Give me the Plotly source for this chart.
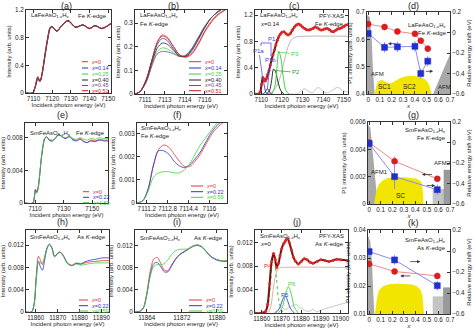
import plotly.graph_objects as go

FONT = "Liberation Sans, Arial, sans-serif"
W, H = 474, 330

# ---------------- data ----------------
LEG6 = ["x=0", "x=0.14", "x=0.25", "x=0.40", "x=0.45", "x=0.51"]
LEG3 = ["x=0", "x=0.22", "x=0.59"]
COL6 = ["#e8322e", "#2b35c8", "#3ad43a", "#222222", "#7a4a8a", "#c81e1e"]
COL3 = ["#e8322e", "#2b35c8", "#3ad43a"]

# (a) La Fe K-edge
E_A = [7106, 7109.5, 7110.8, 7112.3, 7113.5, 7114.5, 7116, 7117.5, 7119, 7120, 7122.5, 7125,
       7128.5, 7132.5, 7136.5, 7140, 7143, 7146.5, 7148.5, 7151.5]
A_SER = [
    [0, 0, 0.08, 0.24, 0.17, 0.25, 0.50, 0.75, 0.94, 0.96, 0.89, 0.97, 1.05, 0.95, 0.985, 0.93, 0.975, 0.93, 0.95, 1.01],
    [0, 0, 0.08, 0.23, 0.17, 0.26, 0.51, 0.76, 0.94, 0.955, 0.895, 0.97, 1.04, 0.955, 0.98, 0.935, 0.97, 0.935, 0.955, 1.0],
    [0, 0, 0.08, 0.21, 0.17, 0.26, 0.52, 0.77, 0.95, 0.96, 0.90, 0.975, 1.04, 0.95, 0.98, 0.93, 0.97, 0.93, 0.95, 1.0],
    [0, 0, 0.07, 0.20, 0.17, 0.27, 0.53, 0.78, 0.95, 0.96, 0.90, 0.97, 1.045, 0.955, 0.985, 0.935, 0.975, 0.935, 0.955, 1.005],
    [0, 0, 0.07, 0.19, 0.17, 0.27, 0.53, 0.78, 0.95, 0.955, 0.895, 0.97, 1.04, 0.95, 0.98, 0.93, 0.97, 0.93, 0.95, 1.0],
    [0, 0, 0.08, 0.22, 0.17, 0.26, 0.51, 0.76, 0.94, 0.96, 0.89, 0.97, 1.05, 0.95, 0.985, 0.93, 0.975, 0.93, 0.95, 1.01],
]

# (b) La pre-edge
E_B = [7110.4, 7110.8, 7111.3, 7111.8, 7112.2, 7112.6, 7113.0, 7113.5, 7114.0, 7114.5, 7115.0,
       7115.5, 7116.0, 7116.5, 7117.0, 7117.8]
B_SER = [
    [0.0, 0.01, 0.06, 0.15, 0.22, 0.25, 0.24, 0.20, 0.165, 0.155, 0.17, 0.21, 0.26, 0.30, 0.33, 0.36],
    [0.0, 0.01, 0.06, 0.15, 0.21, 0.235, 0.225, 0.19, 0.16, 0.16, 0.185, 0.23, 0.28, 0.32, 0.345, 0.37],
    [0.0, 0.01, 0.05, 0.13, 0.18, 0.195, 0.19, 0.175, 0.16, 0.165, 0.195, 0.24, 0.285, 0.32, 0.345, 0.37],
    [0.0, 0.01, 0.055, 0.14, 0.195, 0.215, 0.21, 0.185, 0.16, 0.16, 0.19, 0.235, 0.28, 0.32, 0.345, 0.37],
    [0.0, 0.01, 0.05, 0.125, 0.17, 0.18, 0.178, 0.17, 0.158, 0.165, 0.195, 0.24, 0.285, 0.32, 0.345, 0.37],
    [0.0, 0.01, 0.06, 0.15, 0.22, 0.245, 0.235, 0.20, 0.165, 0.158, 0.175, 0.215, 0.265, 0.305, 0.335, 0.36],
]

# (c) PFY-XAS fit, La x=0.14
E_C = [7107, 7108.5, 7109.5, 7110.2, 7110.8, 7111.4, 7112, 7112.6, 7113.2, 7113.8, 7114.4, 7115,
       7115.7, 7116.4, 7117.1, 7117.8, 7118.5, 7119.2, 7120, 7121, 7122, 7123, 7124, 7125, 7126,
       7127, 7128, 7129, 7130, 7131, 7132, 7133, 7134, 7135, 7136, 7137, 7138, 7139, 7140, 7141,
       7142, 7143, 7144, 7145, 7146, 7147, 7148, 7149, 7150, 7151, 7152]
C_DATA = [0, 0, 0.03, 0.15, 0.25, 0.22, 0.2, 0.24, 0.3, 0.36, 0.44, 0.52, 0.6, 0.67, 0.75, 0.82,
          0.87, 0.91, 0.94, 0.95, 0.92, 0.9, 0.92, 0.97, 1.02, 1.05, 1.065, 1.05, 1.02, 1.0, 0.98,
          0.975, 0.985, 1.0, 1.02, 1.01, 0.99, 0.975, 0.98, 0.995, 1.0, 0.98, 0.955, 0.95, 0.97,
          0.99, 1.0, 1.01, 1.03, 1.05, 1.06]
E_CSTEP = [7107, 7114, 7116, 7118, 7120, 7121.5, 7123, 7124.5, 7126, 7128, 7152]
C_STEP = [0, 0, 0.05, 0.15, 0.35, 0.55, 0.72, 0.82, 0.86, 0.875, 0.88]
E_CBUMP = [7124, 7127, 7129, 7131, 7133, 7135, 7137.5, 7140, 7142, 7144, 7147, 7150, 7152]
C_BUMP = [0, 0, 0.04, 0.08, 0.04, 0.02, 0.1, 0.04, 0.02, 0.05, 0.1, 0.04, 0.03]
E_P1A = [7108.5, 7109.5, 7110.1, 7110.8, 7111.5, 7112.2, 7113, 7114]
P1A = [0, 0.03, 0.13, 0.22, 0.13, 0.03, 0.003, 0]
E_P1B = [7110.5, 7111.5, 7112.3, 7113, 7113.7, 7114.5, 7115.5]
P1B = [0, 0.01, 0.05, 0.08, 0.05, 0.01, 0]
E_P2 = [7112.5, 7114, 7115, 7116, 7117, 7118, 7119.5, 7121]
P2 = [0, 0.05, 0.2, 0.38, 0.34, 0.2, 0.05, 0]
E_P3 = [7115, 7116.5, 7117.5, 7118.5, 7119.5, 7120.5, 7122, 7123.5]
P3 = [0, 0.1, 0.35, 0.65, 0.55, 0.3, 0.05, 0]

# (d) La phase diagram
XD = [0, 0.14, 0.25, 0.40, 0.45, 0.51]
D_P1 = [0.656, 0.645, 0.629, 0.62, 0.595, 0.566]
D_P1_ERR = [0.01, 0.01, 0.01, 0.01, 0.01, 0.012]
D_SHIFT = [-0.01, -0.145, -0.14, -0.135, -0.40, -0.28]
D_SHIFT_ERR = [0.04, 0.05, 0.05, 0.05, 0.05, 0.05]
D_AFM_L_X = [-0.01, -0.01, 0.015, 0.03, 0.04, 0.055]
D_AFM_L_Y = [0.4, 0.69, 0.68, 0.6, 0.5, 0.4]
D_AFM_R_X = [0.555, 0.7, 0.7]
D_AFM_R_Y = [0.4, 0.545, 0.4]
D_SC_X = [0.055, 0.07, 0.09, 0.115, 0.15, 0.185, 0.22, 0.27, 0.32, 0.37, 0.42, 0.46, 0.49, 0.515, 0.53, 0.54, 0.54]
D_SC_Y = [0.4, 0.43, 0.448, 0.452, 0.445, 0.438, 0.445, 0.458, 0.465, 0.467, 0.465, 0.46, 0.452, 0.44, 0.422, 0.405, 0.4]

# (e) Sm Fe K-edge
E_E = [7103, 7108.5, 7109.5, 7110.3, 7111.2, 7112.2, 7113.2, 7114.3, 7115.5, 7116.8, 7118.2, 7120,
       7122, 7124, 7126.5, 7129, 7131.5, 7134, 7136.5, 7139, 7141.5, 7144, 7146.5, 7149, 7152,
       7155, 7158, 7161]
E_SER = [
    [0, 0, 0.0007, 0.0017, 0.0013, 0.0019, 0.0033, 0.0052, 0.0068, 0.0079, 0.0081, 0.0077, 0.0076,
     0.0079, 0.0084, 0.0081, 0.0079, 0.0082, 0.0078, 0.0077, 0.0079, 0.0076, 0.0074, 0.0077, 0.0076,
     0.0078, 0.0077, 0.0077],
    [0, 0, 0.0007, 0.0016, 0.0013, 0.0019, 0.0033, 0.0053, 0.0069, 0.0079, 0.0081, 0.0077, 0.0076,
     0.0079, 0.0084, 0.0081, 0.0079, 0.0081, 0.0077, 0.0076, 0.0078, 0.0075, 0.0074, 0.0076, 0.0075,
     0.0077, 0.0076, 0.0076],
    [0, 0, 0.0006, 0.0013, 0.0012, 0.0018, 0.0034, 0.0054, 0.007, 0.008, 0.0081, 0.0078, 0.0077,
     0.0079, 0.0083, 0.0081, 0.008, 0.0082, 0.0079, 0.0078, 0.008, 0.0078, 0.0077, 0.0079, 0.0078,
     0.008, 0.0079, 0.0079],
]

# (f) Sm pre-edge
E_F = [7110.45, 7110.9, 7111.3, 7111.7, 7112.1, 7112.5, 7112.9, 7113.3, 7113.7, 7114.1, 7114.5,
       7114.9, 7115.3, 7115.7, 7116.1, 7116.5, 7116.9, 7117.35]
F_SER = [
    [0.0, 0.0001, 0.0006, 0.0016, 0.0023, 0.0025, 0.0024, 0.0021, 0.0018, 0.00157, 0.00158, 0.0018,
     0.0021, 0.0025, 0.0029, 0.0032, 0.0034, 0.0036],
    [0.0, 0.0001, 0.0006, 0.0016, 0.00225, 0.00225, 0.0021, 0.0018, 0.0016, 0.00153, 0.00165, 0.0019,
     0.0022, 0.0026, 0.003, 0.0033, 0.0035, 0.0037],
    [0.0, 0.0001, 0.0005, 0.0011, 0.0013, 0.00135, 0.00135, 0.0013, 0.0013, 0.00145, 0.0017, 0.0021,
     0.0025, 0.0028, 0.0031, 0.0034, 0.0036, 0.0037],
]

# (g) Sm Fe K-edge phase diagram
XG = [0, 0.22, 0.59]
G_P1 = [0.0045, 0.00313, 0.00184]
G_P1_ERR = [0.0002, 0.00035, 0.0002]
G_SHIFT = [-0.01, -0.333, -0.46]
G_SHIFT_ERR = [0.03, 0.12, 0.05]
G_AFM1_X = [-0.01, -0.01, 0.01, 0.025, 0.04, 0.06, 0.075]
G_AFM1_Y = [0, 0.0058, 0.0056, 0.0045, 0.003, 0.0012, 0]
G_AFM2_X = [0.55, 0.55, 0.7, 0.7]
G_AFM2_Y = [0, 0.0011, 0.0011, 0]
G_AFM2D_X = [0.645, 0.645, 0.7, 0.7]
G_AFM2D_Y = [0, 0.0025, 0.0025, 0]
G_SC_X = [0.043, 0.06, 0.08, 0.115, 0.16, 0.214, 0.3, 0.38, 0.415, 0.44, 0.457, 0.465, 0.471]
G_SC_Y = [0, 0.0009, 0.0014, 0.0017, 0.0019, 0.00195, 0.00196, 0.0019, 0.00185, 0.0017, 0.0015, 0.0009, 0]

# (h) Sm As K-edge
E_H = [11855.5, 11858, 11859.2, 11860.2, 11861.2, 11862, 11863, 11864, 11865, 11866.2, 11867.4,
       11868.6, 11869.7, 11871, 11872.5, 11874.5, 11876.5, 11878.5, 11880.5, 11882.5, 11885, 11888,
       11890.5, 11893.5]
H_SER = [
    [0, 0, 0.0015, 0.0065, 0.0100, 0.0094, 0.0085, 0.0098, 0.0114, 0.0121, 0.0114, 0.0099, 0.0104,
     0.0108, 0.0102, 0.0088, 0.0084, 0.0088, 0.0086, 0.0088, 0.009, 0.0091, 0.0092, 0.0092],
    [0, 0, 0.0013, 0.006, 0.0091, 0.0082, 0.0075, 0.0092, 0.0112, 0.0122, 0.0115, 0.01, 0.0104,
     0.0107, 0.0101, 0.0087, 0.0083, 0.0087, 0.0086, 0.009, 0.0093, 0.0095, 0.0097, 0.0097],
    [0, 0, 0.0013, 0.006, 0.009, 0.0088, 0.0088, 0.0098, 0.0113, 0.0121, 0.0113, 0.0099, 0.0103,
     0.0107, 0.0101, 0.0087, 0.0083, 0.0086, 0.0084, 0.0085, 0.0087, 0.0088, 0.0088, 0.0088],
]

# (i) Sm As pre-edge
E_I = [11861.3, 11862.3, 11863.2, 11864, 11864.8, 11865.6, 11866.4, 11867.2, 11868, 11868.8,
       11869.6, 11870.5, 11871.5, 11872.5, 11873.5, 11874.5, 11875.5, 11876.5, 11877.5, 11878.5,
       11879.5, 11880.5, 11881.5, 11882.3]
I_SER = [
    [0, 0.0001, 0.0008, 0.0035, 0.0075, 0.0096, 0.0099, 0.0088, 0.0076, 0.0075, 0.0085, 0.0096,
     0.0105, 0.011, 0.0115, 0.012, 0.0122, 0.0119, 0.0111, 0.0102, 0.0097, 0.0094, 0.0093, 0.0093],
    [0, 0.0001, 0.0007, 0.0032, 0.0068, 0.0088, 0.009, 0.0082, 0.0073, 0.0073, 0.0083, 0.0095,
     0.0104, 0.0109, 0.0114, 0.0119, 0.0121, 0.0118, 0.011, 0.0101, 0.0096, 0.0093, 0.0092, 0.0092],
    [0, 0.0001, 0.0007, 0.0032, 0.0066, 0.0083, 0.0086, 0.0086, 0.0088, 0.0095, 0.0104, 0.0111,
     0.0114, 0.0114, 0.0115, 0.0119, 0.0122, 0.0119, 0.0111, 0.0102, 0.0097, 0.0094, 0.0093, 0.0093],
]

# (j) PFY-XAS fit, Sm As K-edge x=0
E_J = [11856.6, 11860, 11862, 11863, 11864, 11865, 11866, 11866.8, 11867.6, 11868.5, 11869.3,
       11870.1, 11871, 11871.8, 11872.5, 11873.2, 11874, 11875, 11876, 11877, 11878.5, 11880,
       11881.5, 11883, 11884.5, 11886, 11888, 11890, 11892, 11894, 11896, 11898, 11900, 11903.7]
J_DATA = [0, 0, 0.0003, 0.0015, 0.005, 0.0088, 0.0102, 0.0092, 0.0078, 0.0085, 0.0098, 0.011,
          0.0118, 0.0122, 0.0126, 0.0127, 0.012, 0.0108, 0.0096, 0.0089, 0.0084, 0.0088, 0.0093,
          0.0091, 0.0087, 0.0085, 0.0088, 0.0091, 0.009, 0.0088, 0.009, 0.0092, 0.0091, 0.009]
E_JSTEP = [11856.6, 11863, 11864.5, 11866, 11867.5, 11869, 11871, 11903.7]
J_STEP = [0, 0, 0.001, 0.0045, 0.007, 0.0077, 0.0078, 0.0078]
E_JBUMP = [11866, 11868, 11870, 11872, 11874, 11876, 11877.5, 11879, 11880.5, 11882, 11884, 11886,
           11888, 11890, 11895, 11900, 11903.7]
J_BUMP = [0, 0.0005, 0.001, 0.0006, 0.001, 0.0013, 0.0015, 0.0009, 0.0008, 0.0004, 0.0003, 0.0006,
          0.0002, 0.0005, 0.001, 0.0015, 0.0018]
E_P4 = [11861, 11862.5, 11863.5, 11864.5, 11865.3, 11866, 11866.7, 11867.5, 11868.5, 11870, 11871.5]
P4 = [0, 0.0004, 0.0018, 0.0052, 0.0085, 0.0098, 0.0088, 0.0058, 0.0025, 0.0005, 0]
E_P5 = [11867, 11869, 11870.5, 11871.8, 11873, 11874.5, 11876.5]
P5 = [0, 0.0008, 0.0022, 0.003, 0.0022, 0.0008, 0]
E_P6 = [11868.5, 11870.5, 11872, 11873.5, 11875, 11876.5, 11878.5]
P6 = [0, 0.001, 0.0032, 0.0045, 0.0032, 0.001, 0]

# (k) Sm As K-edge phase diagram
XK = [0, 0.22, 0.59]
K_P4 = [0.0279, 0.0252, 0.0236]
K_P4_ERR = [0.0008, 0.0008, 0.0008]
K_SHIFT = [-0.006, -0.085, -0.33]
K_SHIFT_ERR = [0.03, 0.045, 0.045]
K_AFM1_X = [-0.01, -0.01, 0.01, 0.025, 0.035, 0.045]
K_AFM1_Y = [0.01, 0.038, 0.036, 0.028, 0.018, 0.01]
K_AFM2_X = [0.55, 0.55, 0.7, 0.7]
K_AFM2_Y = [0.01, 0.0163, 0.0163, 0.01]
K_AFM2D_X = [0.64, 0.64, 0.7, 0.7]
K_AFM2D_Y = [0.01, 0.0195, 0.0195, 0.01]
K_SC_X = [0.05, 0.065, 0.085, 0.12, 0.17, 0.23, 0.3, 0.37, 0.41, 0.44, 0.46, 0.47, 0.475]
K_SC_Y = [0.01, 0.015, 0.0185, 0.0199, 0.0206, 0.0208, 0.0207, 0.0205, 0.02, 0.0188, 0.017, 0.013, 0.01]

# ---------------- layout helpers ----------------
fig = go.Figure()
layout = {}
anns = []
shapes = []
TICK = 6.3
TXT = 6
TTL = 6


def X(px):
    return px / W


def Y(py):
    return 1 - py / H


def ref(n):
    return ("x" if n == 1 else f"x{n}"), ("y" if n == 1 else f"y{n}")


def axkey(n, a):
    return f"{a}axis" if n == 1 else f"{a}axis{n}"


def base_axis():
    return dict(showline=True, linecolor="#333", linewidth=0.8, ticks="inside", ticklen=3,
                tickwidth=0.7, tickcolor="#333", showgrid=False, zeroline=False, tickangle=0,
                tickfont=dict(size=TICK, family=FONT, color="#222"), fixedrange=True, automargin=False)


def panel(n, pxr, pyr, xr, yr, xt, yt, xtitle, ytitle, xtt=None, y2=None, xfmt=None):
    xa = base_axis()
    xa.update(domain=[X(pxr[0]), X(pxr[1])], range=xr, tickmode="array", tickvals=xt,
              mirror="ticks", anchor=ref(n)[1],
              title=dict(text=xtitle, font=dict(size=TTL, family=FONT, color="#222"), standoff=1))
    if xtt:
        xa["ticktext"] = xtt
    if xfmt:
        xa["tickformat"] = xfmt
    ya = base_axis()
    ya.update(domain=[Y(pyr[1]), Y(pyr[0])], range=yr, tickmode="array", tickvals=yt,
              mirror=("ticks" if y2 is None else True), anchor=ref(n)[0],
              title=dict(text=ytitle, font=dict(size=TTL, family=FONT, color="#222"), standoff=2))
    layout[axkey(n, "x")] = xa
    layout[axkey(n, "y")] = ya
    if y2 is not None:
        m, r2, t2, title2 = y2
        yb = base_axis()
        yb.update(domain=[Y(pyr[1]), Y(pyr[0])], range=r2, tickmode="array", tickvals=t2,
                  overlaying=ref(n)[1], side="right", anchor=ref(n)[0],
                  title=dict(text=title2, font=dict(size=TTL, family=FONT, color="#222"), standoff=2))
        layout[axkey(m, "y")] = yb


def line(n, x, y, color, width=1.0, dash="solid", yn=None):
    xr_, yr_ = ref(n)
    if yn is not None:
        yr_ = ref(yn)[1]
    fig.add_trace(go.Scatter(x=x, y=y, mode="lines", xaxis=xr_, yaxis=yr_,
                             line=dict(color=color, width=width, dash=dash, shape="spline", smoothing=0.9),
                             hoverinfo="skip"))


def fill(n, x, y, color):
    xr_, yr_ = ref(n)
    fig.add_trace(go.Scatter(x=x, y=y, mode="lines", fill="toself", fillcolor=color,
                             line=dict(width=0, color=color), xaxis=xr_, yaxis=yr_, hoverinfo="skip"))


def points(n, x, y, err, color, lcolor, symbol, yn=None):
    xr_, yr_ = ref(n)
    if yn is not None:
        yr_ = ref(yn)[1]
    fig.add_trace(go.Scatter(x=x, y=y, mode="lines+markers", xaxis=xr_, yaxis=yr_,
                             line=dict(color=lcolor, width=1),
                             marker=dict(color=color, size=6, symbol=symbol,
                                         line=dict(color=color, width=0.5)),
                             error_y=dict(type="data", array=err, color=lcolor, thickness=1, width=0),
                             hoverinfo="skip"))


def T(px, py, text, size=TXT, color="#222", xa="left", ya="middle"):
    anns.append(dict(x=X(px), y=Y(py), xref="paper", yref="paper", text=text, showarrow=False,
                     font=dict(size=size, color=color, family=FONT), xanchor=xa, yanchor=ya))


def legend(x0, x1, ys, labels, colors, size=5.5):
    for yy, lab, c in zip(ys, labels, colors):
        shapes.append(dict(type="line", xref="paper", yref="paper", x0=X(x0), x1=X(x1),
                           y0=Y(yy), y1=Y(yy), line=dict(color=c, width=1)))
        T(x1 + 1, yy, "<i>x</i>=" + lab.split("=")[1], size=size, color=c)


def arrow(n, xh, yh, xt_, yt_, color="#333"):
    xr_, yr_ = ref(n)
    anns.append(dict(x=xh, y=yh, ax=xt_, ay=yt_, xref=xr_, yref=yr_, axref=xr_, ayref=yr_,
                     text="", showarrow=True, arrowhead=2, arrowsize=0.8, arrowwidth=0.8,
                     arrowcolor=color))


def pointer(n, xh, yh, dx, dy, text, color, size=TXT):
    xr_, yr_ = ref(n)
    anns.append(dict(x=xh, y=yh, ax=dx, ay=dy, xref=xr_, yref=yr_, text=text, showarrow=True,
                     arrowhead=0, arrowwidth=0.7, arrowcolor=color,
                     font=dict(size=size, color=color, family=FONT)))


ITY = "Intensity (arb. units)"
EXT = "Incident photon energy (eV)"
LAF = "LaFeAsO<sub>1-<i>x</i></sub>H<sub><i>x</i></sub>"
SMF = "SmFeAsO<sub>1-<i>x</i></sub>H<sub><i>x</i></sub>"
FEK = "Fe <i>K</i>-edge"
ASK = "As <i>K</i>-edge"
SHIFT = "Relative energy shift (eV)"
XC = [0, 0.1, 0.2, 0.3, 0.4, 0.5, 0.6, 0.7]
RT = [-0.6, -0.4, -0.2, 0, 0.2]

# panels
panel(1, (26, 111), (10, 93), [7106, 7151.5], [0, 1.2], [7110, 7120, 7130, 7140, 7150], [0, 0.4, 0.8, 1.2], EXT, ITY, xfmt="d")
panel(2, (135, 227), (10, 94), [7110.4, 7117.8], [0, 0.355], [7111.2, 7112.8, 7114.4, 7116], [0, 0.1, 0.2, 0.3], EXT, ITY,
      xtt=["7111", "7113", "7114", "7116"])
panel(3, (255, 348), (10, 94), [7107, 7152], [0, 1.28], [7110, 7120, 7130, 7140, 7150], [0, 0.4, 0.8, 1.2], EXT, ITY, xfmt="d")
panel(4, (367, 450), (12, 94), [-0.01, 0.7], [0.4, 0.7], XC, [0.4, 0.5, 0.6, 0.7], "<i>x</i>",
      "P1 intensity (arb. units)", y2=(12, [-0.6, 0.2], RT, SHIFT))
panel(5, (25, 108), (123, 203), [7103, 7161], [0, 0.0098], [7110, 7130, 7150], [0, 0.004, 0.008], EXT, ITY, xfmt="d")
panel(6, (137, 227), (123, 203), [7110.45, 7117.35], [0, 0.00345], [7111.2, 7112.8, 7114.4, 7116],
      [0, 0.001, 0.002, 0.003], EXT, ITY, xtt=["7111.2", "7112.8", "7114.4", "7116"])
panel(7, (368, 450), (122, 204), [-0.01, 0.7], [0, 0.006], XC, [0, 0.002, 0.004, 0.006], "<i>x</i>",
      "P1 intensity (arb. units)", y2=(13, [-0.6, 0.2], RT, SHIFT))
panel(8, (26, 109), (230, 312), [11855.5, 11893.5], [0, 0.0147], [11860, 11870, 11880, 11890],
      [0, 0.004, 0.008, 0.012], EXT, ITY, xfmt="d")
panel(9, (135, 227), (230, 312), [11861.3, 11882.3], [0, 0.0149], [11864, 11872, 11880],
      [0, 0.004, 0.008, 0.012], EXT, ITY, xfmt="d")
panel(10, (255, 348), (230, 313), [11856.6, 11903.7], [0, 0.0142], [11860, 11870, 11880, 11890, 11900],
      [0, 0.004, 0.008, 0.012], EXT, ITY, xfmt="d")
panel(11, (368, 450), (230, 314), [-0.01, 0.7], [0.01, 0.04], XC, [0.01, 0.02, 0.03, 0.04], "<i>x</i>",
      "P4 intensity (arb. units)", y2=(14, [-0.6, 0.2], RT, SHIFT))

# ---- traces ----
for ys, c in zip(A_SER, COL6):
    line(1, E_A, ys, c, 0.8)
for ys, c in zip(B_SER, COL6):
    line(2, E_B, ys, c, 0.8)

line(3, E_CSTEP, C_STEP, "#b0b0b0", 0.9)
line(3, E_CBUMP, C_BUMP, "#b8b8b8", 0.8)
line(3, E_P1A, P1A, "#3a3ae0", 0.9)
line(3, E_P1B, P1B, "#1a1a80", 0.9)
line(3, E_P2, P2, "#111111", 0.9)
line(3, E_P3, P3, "#3ad43a", 1.0)
line(3, E_C, C_DATA, "#7a1010", 2.0)
fig.add_trace(go.Scatter(x=E_C, y=C_DATA, mode="markers", xaxis="x3", yaxis="y3",
                         marker=dict(color="#e02828", size=3), hoverinfo="skip"))

fill(4, D_AFM_L_X, D_AFM_L_Y, "#a8a8a8")
fill(4, D_AFM_R_X, D_AFM_R_Y, "#a8a8a8")
fill(4, D_SC_X, D_SC_Y, "#f2e600")
points(4, XD, D_P1, D_P1_ERR, "#d81e1e", "#f08a8a", "circle")
points(4, XD, D_SHIFT, D_SHIFT_ERR, "#1f2fd0", "#8c8cf0", "square", yn=12)

for ys, c in zip(E_SER, COL3):
    line(5, E_E, ys, c, 0.8)
for ys, c in zip(F_SER, COL3):
    line(6, E_F, ys, c, 0.8)

fill(7, G_AFM1_X, G_AFM1_Y, "#a8a8a8")
fill(7, G_AFM2_X, G_AFM2_Y, "#c4c4c4")
fill(7, G_AFM2D_X, G_AFM2D_Y, "#9a9a9a")
fill(7, G_SC_X, G_SC_Y, "#f2e600")
points(7, XG, G_P1, G_P1_ERR, "#d81e1e", "#f08a8a", "circle")
points(7, XG, G_SHIFT, G_SHIFT_ERR, "#1f2fd0", "#8c8cf0", "square", yn=13)

for ys, c in zip(H_SER, COL3):
    line(8, E_H, ys, c, 0.8)
for ys, c in zip(I_SER, COL3):
    line(9, E_I, ys, c, 0.8)

line(10, E_JSTEP, J_STEP, "#e0a0a0", 0.9)
line(10, E_JBUMP, J_BUMP, "#b8b8b8", 0.8)
line(10, E_P4, P4, "#3ad43a", 1.0, dash="dot")
line(10, E_P5, P5, "#3a3ae0", 0.9)
line(10, E_P6, P6, "#3ad43a", 0.9)
line(10, E_J, J_DATA, "#7a1010", 2.0)
fig.add_trace(go.Scatter(x=E_J, y=J_DATA, mode="markers", xaxis="x10", yaxis="y10",
                         marker=dict(color="#e02828", size=3), hoverinfo="skip"))

fill(11, K_AFM1_X, K_AFM1_Y, "#a8a8a8")
fill(11, K_AFM2_X, K_AFM2_Y, "#c4c4c4")
fill(11, K_AFM2D_X, K_AFM2D_Y, "#9a9a9a")
fill(11, K_SC_X, K_SC_Y, "#f2e600")
points(11, XK, K_P4, K_P4_ERR, "#d81e1e", "#f08a8a", "circle")
points(11, XK, K_SHIFT, K_SHIFT_ERR, "#1f2fd0", "#8c8cf0", "square", yn=14)

# ---- texts ----
for lab, px, py in [("(a)", 66, 5.5), ("(b)", 173, 5.5), ("(c)", 294, 5.5), ("(d)", 413, 5.5),
                    ("(e)", 62, 115.5), ("(f)", 177, 115.5), ("(g)", 413, 115.5),
                    ("(h)", 62, 222.5), ("(i)", 177, 222.5), ("(j)", 297, 222.5), ("(k)", 413, 223)]:
    T(px, py, lab, size=9, xa="center")

T(29, 16, LAF); T(109, 16, FEK, xa="right")
legend(82, 88, [61.7, 68, 74, 80, 85.5, 90.7], LEG6, COL6)
T(138, 16, LAF); T(138, 24, FEK)
legend(189, 201, [61.7, 68, 74, 80, 85.5, 90.7], LEG6, COL6)
T(258, 16, LAF); T(258, 24, "<i>x</i>=0.14")
T(346, 16, "PFY-XAS", xa="right"); T(346, 24, FEK, xa="right")
T(266, 39, "P1", color="#3a3ae0")
shapes += [dict(type="line", xref="paper", yref="paper", x0=X(261), x1=X(271), y0=Y(43), y1=Y(43),
                line=dict(color="#3a3ae0", width=0.7)),
           dict(type="line", xref="paper", yref="paper", x0=X(261), x1=X(261), y0=Y(43), y1=Y(46),
                line=dict(color="#3a3ae0", width=0.7)),
           dict(type="line", xref="paper", yref="paper", x0=X(271), x1=X(271), y0=Y(43), y1=Y(56),
                line=dict(color="#3a3ae0", width=0.7))]
pointer(3, 7110.8, 0.22, -4, -29, "P1a", "#3a3ae0")
pointer(3, 7113.0, 0.08, 3, -29, "P1b", "#3a3ae0")
pointer(3, 7116.3, 0.36, 22, 2, "P2", "#2a9a2a")
pointer(3, 7118.6, 0.64, 16, 2, "P3", "#3ad43a")

T(449, 25, LAF, xa="right"); T(449, 33, FEK, xa="right")
T(369, 74, "AFM"); T(436, 87, "AFM")
T(384, 86, "SC1", size=6.5, xa="center"); T(409, 86, "SC2", size=6.5, xa="center")
arrow(4, 0.17, 0.584, 0.245, 0.584)
arrow(4, 0.555, 0.483, 0.48, 0.483)

T(28, 133, SMF); T(107, 133, FEK, xa="right")
legend(83, 89, [191.7, 197.3, 202.7], LEG3, COL3)
T(139, 128, SMF); T(139, 136, FEK)
legend(191, 203, [186, 191.7, 197.3], LEG3, COL3)

T(448, 130, SMF, xa="right"); T(448, 138, FEK, xa="right")
T(369, 172, "AFM1"); T(432, 163, "AFM2")
T(400, 195, "SC", size=6.5, xa="center")
arrow(7, 0.457, 0.00216, 0.557, 0.00216)
arrow(7, 0.571, 0.00135, 0.486, 0.00135)

T(28, 237, SMF); T(108, 237, ASK, xa="right")
legend(79, 88, [300, 305.7, 311], LEG3, COL3)
T(138, 238, SMF); T(225, 238, ASK, xa="right")
legend(189, 202, [300, 305.7, 311], LEG3, COL3)

T(258, 236, SMF); T(258, 244, "<i>x</i>=0")
T(346, 236, "PFY-XAS", xa="right"); T(346, 244, ASK, xa="right")
T(262, 266, "P4", color="#e02828"); T(279, 295, "P5", color="#3a3ae0"); T(286, 284, "P6", color="#3ad43a")

T(448, 240, SMF, xa="right"); T(448, 248, ASK, xa="right")
arrow(11, 0.443, 0.0287, 0.343, 0.0287)
arrow(11, 0.27, 0.0236, 0.37, 0.0236)

layout.update(width=W, height=H, margin=dict(l=0, r=0, t=0, b=0), paper_bgcolor="white",
              plot_bgcolor="white", showlegend=False, annotations=anns, shapes=shapes,
              font=dict(family=FONT, size=TXT, color="#222"))
fig.update_layout(**layout)
fig.write_html("out.html")
